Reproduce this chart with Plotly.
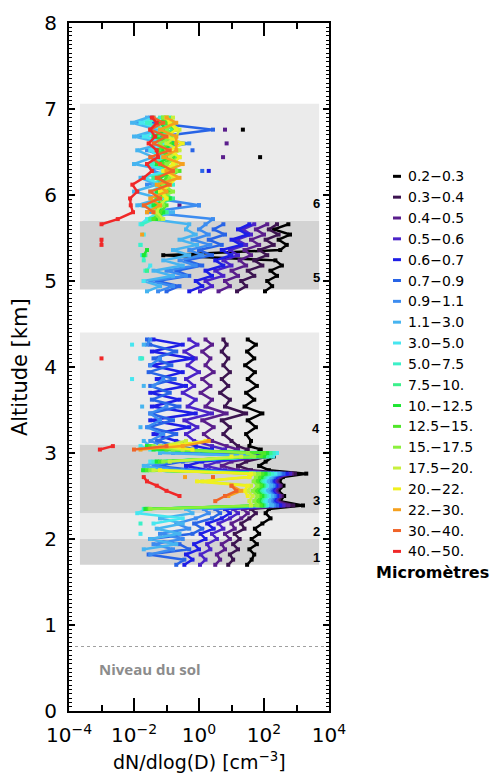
import plotly.graph_objects as go

N = None

# ---------------- altitude grids (km) ----------------
# profile A : layers 1-4 (1.70 - 4.32 km)
ALT_A = [1.70, 1.76, 1.82, 1.88, 1.94, 2.00, 2.06, 2.12, 2.18, 2.24, 2.30, 2.35,
         2.39, 2.44, 2.50, 2.56, 2.62, 2.67, 2.72, 2.76, 2.80, 2.85, 2.90, 2.96, 3.00, 3.04, 3.08,
         3.14, 3.22, 3.30, 3.38, 3.46, 3.54, 3.62, 3.70, 3.78, 3.86, 3.94, 4.02, 4.10, 4.18, 4.26, 4.32]
# profile B : layers 5-6 (4.88 - 6.90 km)
ALT_B = [4.88, 4.94, 5.00, 5.06, 5.12, 5.18, 5.24, 5.30, 5.36, 5.42, 5.48, 5.54, 5.60, 5.66,
         5.72, 5.80, 5.88, 5.96, 6.04, 6.12, 6.20, 6.28, 6.36, 6.44, 6.52, 6.60, 6.68, 6.76, 6.84, 6.90]

# ------------- log10 of dN/dlog(D) [cm-3] per size bin -------------
lg_0203_a = [1.48, 1.62, 1.70, 1.55, 1.78, 1.62, 1.85, 1.72, 1.95, 2.20, 2.05, 2.15,
             3.20, 2.50, 2.62, 2.45, 2.60, 2.48, 2.58, 3.30, 2.15, 1.85, 2.05, 2.30, 1.75, 1.90, 1.55,
             1.60, 1.45, 1.75, 1.50, 1.95, 1.40, 1.70, 1.45, 1.78, 1.50, 1.72, 1.42, 1.70, 1.48, 1.75, 1.50]
lg_0203_b = [2.03, 2.25, 2.10, 2.40, 2.20, 2.55, 2.35, -1.10, 2.50, 2.70, 2.45, 2.80, 2.30, 2.75,
             N, N, N, N, N, N, N, N, N, 1.88, N, N, N, 1.35, N, N]

lg_0304_a = [0.90, 1.05, 0.95, 1.20, 1.05, 1.25, 1.10, 1.40, 1.30, 1.55, 1.75, 1.60,
             2.90, 2.45, 2.55, 2.40, 2.52, 2.42, 2.50, 2.95, 1.60, 1.20, 1.45, 2.10, 1.35, 1.50, 1.20,
             1.00, 0.75, 0.95, 0.70, 1.45, 0.80, 0.95, 0.65, 0.90, 0.70, 0.95, 0.75, 0.90, 0.70, 0.85, 0.75]
lg_0304_b = [1.17, 1.45, 1.30, 1.70, 1.50, 1.95, 1.70, 2.10, 1.85, 2.30, 2.05, 2.45, 2.15, 2.40,
             N, N, N, N, N, N, N, N, N, N, N, N, N, N, N, N]

lg_0405_a = [0.50, 0.65, 0.55, 0.80, 0.70, 0.95, 0.80, 1.10, 1.00, 1.30, 1.50, 1.35,
             2.75, 2.40, 2.50, 2.35, 2.48, 2.38, 2.45, 2.85, 1.20, 0.70, 1.00, 1.95, 0.90, 1.20, 0.85,
             0.40, 0.15, 0.45, 0.10, 0.85, 0.20, 0.40, 0.05, 0.35, 0.10, 0.45, 0.20, 0.35, 0.10, 0.40, 0.20]
lg_0405_b = [0.60, 0.95, 0.80, 1.20, 1.00, 1.45, 1.25, 1.60, 1.40, 1.85, 1.60, 2.00, 1.75, 2.10,
             N, N, -0.60, N, N, N, N, N, N, 0.74, N, 0.85, N, 0.80, N, N]

lg_0506_a = [0.03, 0.20, 0.05, 0.35, 0.25, 0.55, 0.40, 0.75, 0.60, 0.95, 1.20, 1.05,
             2.60, 2.35, 2.45, 2.30, 2.42, 2.32, 2.40, 2.80, 0.80, 0.20, 0.60, 1.85, 0.50, 0.80, 0.40,
             -0.15, -0.40, -0.05, -0.45, 0.40, -0.35, -0.10, -0.50, -0.15, -0.40, 0.00, -0.35, -0.10, -0.45, -0.05, -0.30]
lg_0506_b = [0.03, 0.40, 0.20, 0.75, 0.50, 1.00, 0.75, 1.20, 0.95, 1.45, 1.15, 1.60, 1.35, 1.70,
             N, N, N, N, N, N, N, N, N, N, N, N, N, N, N, N]

lg_0607_a = [-0.45, -0.20, -0.40, 0.00, -0.15, 0.20, 0.05, 0.45, 0.25, 0.70, 0.95, 0.80,
             2.50, 2.30, 2.40, 2.25, 2.38, 2.28, 2.35, 2.70, 0.30, -0.40, 0.10, 1.95, 0.10, 0.40, -0.10,
             -0.70, -1.40, -0.30, -1.50, -0.10, -1.45, -0.60, -1.50, -0.40, -1.30, -0.50, -1.50, -0.20, -1.45, -0.50, -1.40]
lg_0607_b = [-0.30, 0.10, -0.10, 0.40, 0.20, 0.75, 0.50, 1.00, 0.70, 1.30, 1.00, 1.50, 1.20, 1.55,
             N, N, N, N, N, N, N, 0.30, N, N, N, N, N, N, N, N]

lg_0709_a = [-0.70, -0.45, -1.55, -0.30, -0.60, -1.50, -0.20, 0.10, -0.15, 0.40, 0.65, 0.50,
             2.40, 2.25, 2.35, 2.20, 2.32, 2.22, 2.30, 2.60, -0.10, -1.30, -0.50, 2.00, -0.40, -0.10, -0.60,
             -1.30, -0.70, -1.55, -0.80, -1.50, -0.60, -1.45, -0.90, -1.50, -0.75, -1.55, -0.85, -1.40, -0.70, -1.50, -1.60]
lg_0709_b = [-1.00, -0.60, -1.30, -0.30, -0.70, 0.10, -0.40, 0.40, 0.00, 0.70, 0.30, 0.80, 0.45, 0.75,
             N, N, 0.00, N, N, N, N, 0.10, N, N, -0.20, N, -1.20, 0.43, -1.40, N]

lg_0911_a = [N, N, -1.50, -0.80, -1.40, -0.50, -1.20, -0.30, -0.70, -0.10, 0.30, 0.15,
             2.30, 2.20, 2.30, 2.15, 2.28, 2.18, 2.25, 2.50, -0.50, -1.40, -0.90, 2.05, -0.80, -0.60, -1.10,
             -1.50, -1.10, -1.60, -1.20, -1.50, -1.00, N, N, -1.40, -1.10, N, -1.50, -1.20, N, -1.60, -1.50]
lg_0911_b = [-1.26, -0.80, -1.50, -0.40, -1.00, -0.10, -0.60, 0.10, -0.30, 0.35, -0.20, 0.30, 0.00, 0.20,
             0.43, -1.60, 0.00, -1.30, N, -1.60, -0.80, -1.40, N, -1.00, -1.60, -0.30, -1.80, -1.20, -1.90, -1.50]

lg_1130_a = [N, N, N, -1.70, -0.70, -1.50, -0.60, -1.30, -0.50, -1.20, -0.20, -0.40,
             2.25, 2.15, 2.25, 2.10, 2.22, 2.12, 2.20, 2.45, -1.00, -1.70, -1.20, 2.10, -1.20, -1.00, -1.50,
             -1.70, N, -1.80, N, N, -1.75, N, N, -1.70, N, N, N, -1.80, N, -1.70, N]
lg_1130_b = [-1.60, -1.20, -1.70, -0.80, -1.40, -0.50, -1.10, -0.30, -0.80, -0.06, -0.60, -0.10, -0.40, -0.30,
             -1.50, -0.80, -1.90, -1.20, -2.00, -1.30, -1.80, -0.90, -2.00, -1.40, -1.90, -1.10, -2.00, -1.30, -2.06, -1.60]

lg_3050_a = [N, N, N, N, N, N, -1.80, N, -1.40, -0.50, -1.90, -1.60,
             2.10, 2.05, 2.15, 2.00, 2.10, 2.02, 2.10, 2.35, -1.40, N, -1.50, 2.28, 2.40, -1.50, -1.80,
             N, N, N, N, N, N, N, N, N, -2.06, N, N, -1.80, N, -2.06, N]
lg_3050_b = [N, N, -1.70, N, -1.60, -1.50, N, -1.75, N, -1.80, N, -1.70, N, -1.80,
             -1.60, -1.20, -1.70, -1.00, -1.50, -1.10, -1.70, -1.00, -1.60, -1.20, -1.50, -1.00, -1.70, -1.10, -1.80, -1.40]

lg_5075_a = [N, N, N, N, N, N, N, N, -1.80, N, N, -1.70,
             2.05, 1.95, 2.08, 1.92, 2.05, 1.95, 2.02, 2.25, -1.60, N, -1.40, 2.20, 2.30, -1.30, -1.60,
             N, N, N, N, N, N, N, N, N, N, N, N, -1.75, N, N, N]
lg_5075_b = [N, N, N, N, -1.65, N, -1.70, -1.70, N, -1.80, N, N, N, -1.75,
             -1.40, -1.00, -1.50, -0.90, -1.30, -0.80, -1.40, -0.90, -1.50, -1.00, -1.30, -0.90, -1.40, -1.00, -1.60, -1.20]

lg_7510_a = [N] * 11 + [-1.60] + \
            [2.00, 1.90, 2.02, 1.85, 2.00, 1.88, 1.98, 2.15, -1.70, N, -1.30, 2.10, 2.20, -1.20, -1.50] + [N] * 16
lg_7510_b = [N, N, N, N, -1.60, N, N, -1.65, N, N, N, N, N, N,
             -1.50, -1.00, -1.30, -0.80, -1.20, -0.90, -1.40, -0.80, -1.10, -0.70, -1.20, -0.90, -1.30, -0.80, -1.20, -0.90]

lg_1012_a = [N] * 11 + [-1.65] + \
            [1.95, 1.85, 1.95, 1.80, 1.95, 1.82, 1.92, 2.05, -1.72, N, -1.30, 2.00, 2.10, -1.40, -1.60] + [N] * 16
lg_1012_b = [N] * 7 + [-1.70, -1.60] + [N] * 5 + \
            [-1.30, -1.10, -1.40, -0.90, -1.30, -1.00, -1.20, -0.70, -1.30, -0.90, -1.10, -0.80, -1.40, -1.00, -1.20, -1.00]

lg_1215_a = [N] * 11 + [-1.55] + \
            [1.90, 1.80, 1.88, 1.75, 1.90, 1.78, 1.85, 1.95, -1.60, N, -1.20, 1.90, 2.00, -1.00, -1.50] + [N] * 16
lg_1215_b = [N] * 14 + \
            [-1.40, -1.20, -1.00, -1.30, -0.90, -1.20, -1.00, -0.60, -1.10, -0.80, -1.30, -0.90, -1.10, -0.70, -1.00, -1.10]

lg_1517_a = [N] * 11 + [-1.50] + \
            [1.80, 1.70, 1.80, 1.65, 1.80, 1.68, 1.75, 1.85, -1.50, N, -1.10, 1.70, 1.50, -0.80, -1.40] + [N] * 16
lg_1517_b = [N] * 14 + \
            [-1.20, -1.40, -1.10, -1.20, -0.80, -1.10, -0.90, -0.70, -1.00, -0.60, -1.00, -1.20, -0.80, -1.00, -0.80, -1.10]

lg_1720_a = [N] * 12 + \
            [1.60, 1.55, 1.65, 1.50, 1.60, 0.10, 1.55, 1.70, -1.40, N, -0.90, 1.30, N, -0.50, -1.20] + [-0.40] + [N] * 15
lg_1720_b = [N] * 14 + \
            [-1.10, -1.30, -1.20, -1.00, -1.10, -0.90, -0.80, -1.00, -0.70, -0.90, -0.60, -1.00, -0.70, -0.60, -0.90, -0.80]

lg_2022_a = [N] * 12 + \
            [N, N, 1.50, 1.40, 1.50, -0.06, 1.55, 1.60, -1.20, N, N, 1.00, N, -0.20, -1.00] + [0.20] + [N] * 15
lg_2022_b = [N] * 14 + \
            [N, N, N, -1.00, -1.20, -0.90, -0.70, -1.10, -0.80, -0.60, -0.90, -0.50, -1.00, -0.70, -0.90, -1.00]

lg_2230_a = [N] * 12 + \
            [N, N, 0.90, 1.30, 1.00, N, -0.43, N, N, N, N, N, N, -1.80, -0.50] + [0.30] + [N] * 15
lg_2230_b = [N] * 11 + [-1.75, N, N] + \
            [N, -1.60, -1.20, -1.50, -1.00, -1.30, -0.60, -1.00, -0.50, -1.10, -0.70, -0.70, -0.70, -1.20, -0.70, -1.00]

lg_3040_a = [N] * 12 + \
            [N, 0.50, 0.80, 1.15, 1.00, N, 0.43, N, N, N, N, N, N, -2.00, -1.00] + [N] * 16
lg_3040_b = [N] * 14 + \
            [N, -1.40, -1.70, -1.20, -1.50, -0.90, -1.30, -0.80, -1.20, -1.50, -0.90, -1.40, -1.00, -1.50, -1.10, -1.40]

lg_4050_a = [N] * 12 + \
            [N, N, -0.60, -1.00, -1.30, -1.60, -1.70, N, N, N, N, N, N, -3.05, -2.65] + [N] * 12 + [-3.00] + [N] * 3
lg_4050_b = [N] * 9 + [-3.00, -3.00] + [N, N, -3.00] + \
            [-2.50, -2.03, -2.10, -2.12, -1.90, -2.05, -1.70, -1.45, -1.60, -1.26, -1.30, -1.55, -1.35, -1.50, -1.30, -1.45]

SIZE_BINS = ["0.2\u22120.3", "0.3\u22120.4", "0.4\u22120.5", "0.5\u22120.6", "0.6\u22120.7",
             "0.7\u22120.9", "0.9\u22121.1", "1.1\u22123.0", "3.0\u22125.0", "5.0\u22127.5",
             "7.5\u221210.", "10.\u221212.5", "12.5\u221215.", "15.\u221217.5", "17.5\u221220.",
             "20.\u221222.", "22.\u221230.", "30.\u221240.", "40.\u221250."]
BIN_COLORS = ["#000000", "#3c1450", "#5a1e8c", "#4b24c8", "#1e1ee6", "#2864e6", "#3c8cf0",
              "#46b4f0", "#46e6f0", "#3cf0c8", "#3cf08c", "#1ee632", "#50e628", "#8cf03c",
              "#c8f03c", "#f0f01e", "#f5a01e", "#f06428", "#f02828"]
SERIES_A = [lg_0203_a, lg_0304_a, lg_0405_a, lg_0506_a, lg_0607_a, lg_0709_a, lg_0911_a,
            lg_1130_a, lg_3050_a, lg_5075_a, lg_7510_a, lg_1012_a, lg_1215_a, lg_1517_a,
            lg_1720_a, lg_2022_a, lg_2230_a, lg_3040_a, lg_4050_a]
SERIES_B = [lg_0203_b, lg_0304_b, lg_0405_b, lg_0506_b, lg_0607_b, lg_0709_b, lg_0911_b,
            lg_1130_b, lg_3050_b, lg_5075_b, lg_7510_b, lg_1012_b, lg_1215_b, lg_1517_b,
            lg_1720_b, lg_2022_b, lg_2230_b, lg_3040_b, lg_4050_b]

# layers (grey bands)
BAND_BOTTOM = [1.70, 2.00, 2.30, 3.10, 4.90, 5.70]
BAND_TOP = [2.00, 2.30, 3.10, 4.40, 5.70, 7.06]
BAND_LABEL = ["1", "2", "3", "4", "5", "6"]
BAND_LABEL_ALT = [1.79, 2.09, 2.45, 3.28, 5.04, 5.90]
GROUND_ALT = 0.75

X_TICKS = [1e-4, 1e-2, 1e0, 1e2, 1e4]
X_TICKTEXT = ["10<sup>\u22124</sup>", "10<sup>\u22122</sup>", "10<sup>0</sup>",
              "10<sup>2</sup>", "10<sup>4</sup>"]
X_MINOR = [1e-3, 1e-1, 1e1, 1e3]


def to_conc(vals):
    return [None if v is None else 10 ** v for v in vals]


fig = go.Figure()

band_fill = ["#d3d3d3", "#ebebeb"]
for i, (y0, y1) in enumerate(zip(BAND_BOTTOM, BAND_TOP)):
    fig.add_shape(type="rect", xref="paper", yref="y", x0=0.042, x1=0.962, y0=y0, y1=y1,
                  fillcolor=band_fill[i % 2], line_width=0, layer="below")

fig.add_shape(type="line", xref="paper", yref="y", x0=0, x1=1, y0=GROUND_ALT, y1=GROUND_ALT,
              line=dict(color="#a0a0a0", width=1, dash="dot"), layer="below")

for name, col, a, b in zip(SIZE_BINS, BIN_COLORS, SERIES_A, SERIES_B):
    assert len(a) == len(ALT_A) and len(b) == len(ALT_B), name
    fig.add_trace(go.Scatter(
        x=to_conc(a) + [None] + to_conc(b),
        y=ALT_A + [None] + ALT_B,
        mode="lines+markers", name=name, connectgaps=False,
        line=dict(color=col, width=2.5),
        marker=dict(symbol="square", size=4, color=col, line=dict(width=0)),
        showlegend=False, hoverinfo="skip"))

# layer numbers
for lab, alt in zip(BAND_LABEL, BAND_LABEL_ALT):
    fig.add_annotation(x=0.95, xref="paper", y=alt, yref="y", text="<b>" + lab + "</b>",
                       xanchor="center", yanchor="middle", showarrow=False,
                       font=dict(family="Liberation Sans", size=13, color="black"))

fig.add_annotation(x=0.108, xref="paper", y=0.49, yref="y", text="<b>Niveau du sol</b>",
                   xanchor="left", yanchor="middle", showarrow=False,
                   font=dict(family="Open Sans", size=15, color="#8c8c8c"))

# axis titles
fig.add_annotation(x=-0.188, xref="paper", y=0.5, yref="paper", text="Altitude [km]",
                   textangle=-90, xanchor="center", yanchor="middle", showarrow=False,
                   font=dict(family="DejaVu Sans", size=21, color="black"))
fig.add_annotation(x=0.5, xref="paper", y=-0.073, yref="paper",
                   text="dN/dlog(D) [cm<sup>\u22123</sup>]", showarrow=False,
                   xanchor="center", yanchor="middle",
                   font=dict(family="DejaVu Sans", size=19, color="black"))

# custom legend
PLOT_L, PLOT_W, PLOT_B, PLOT_H = 69, 260, 711, 700
for i, (name, col) in enumerate(zip(SIZE_BINS, BIN_COLORS)):
    ypx = 167 + 21.2 * i
    yp = (PLOT_B - ypx) / PLOT_H
    fig.add_shape(type="line", xref="paper", yref="paper",
                  x0=(393 - PLOT_L) / PLOT_W, x1=(401 - PLOT_L) / PLOT_W, y0=yp, y1=yp,
                  line=dict(color=col, width=3))
    fig.add_annotation(x=(406 - PLOT_L) / PLOT_W, xref="paper", y=yp, yref="paper",
                       text=name, xanchor="left", yanchor="middle", showarrow=False,
                       font=dict(family="DejaVu Sans", size=14, color="black"))
fig.add_annotation(x=(374 - PLOT_L) / PLOT_W, xref="paper", y=(PLOT_B - 570) / PLOT_H, yref="paper",
                   text="<b>Micromètres</b>", xanchor="left", yanchor="middle", showarrow=False,
                   font=dict(family="DejaVu Sans", size=16, color="black"))

fig.update_layout(
    width=494, height=775,
    margin=dict(l=69, r=165, t=11, b=64),
    paper_bgcolor="white", plot_bgcolor="white",
    showlegend=False,
    font=dict(family="DejaVu Sans", color="black"),
    xaxis=dict(type="log", range=[-4, 4], tickmode="array", tickvals=X_TICKS, ticktext=X_TICKTEXT,
               ticks="inside", ticklen=13, tickwidth=2, tickcolor="black",
               showline=True, linewidth=2, linecolor="black", mirror="allticks",
               showgrid=False, zeroline=False, ticklabelstandoff=5,
               tickfont=dict(family="DejaVu Sans", size=20, color="black"),
               minor=dict(tickmode="array", tickvals=X_MINOR, ticks="inside", ticklen=6,
                          tickwidth=2, tickcolor="black", showgrid=False)),
    yaxis=dict(range=[0, 8], tick0=0, dtick=1,
               ticks="inside", ticklen=6, tickwidth=2, tickcolor="black",
               showline=True, linewidth=2, linecolor="black", mirror="allticks",
               showgrid=False, zeroline=False, ticklabelstandoff=6,
               tickfont=dict(family="DejaVu Sans", size=20, color="black"),
               minor=dict(dtick=0.05, ticks="inside", ticklen=3, tickwidth=1,
                          tickcolor="black", showgrid=False)),
)

fig.write_html("out.html", config={"displayModeBar": False},
               post_script="document.body.style.margin='0';")
